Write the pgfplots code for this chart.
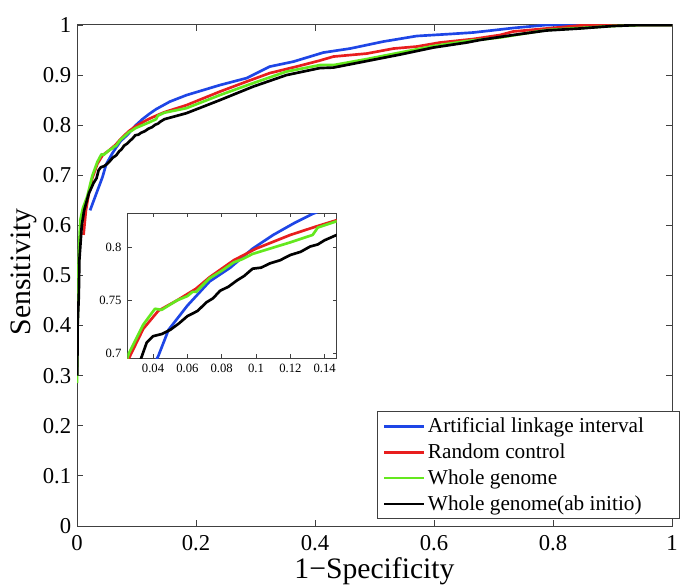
\documentclass[border=0pt]{standalone}
\usepackage{pgfplots}
\pgfplotsset{compat=1.18}
\usepackage{pgfplotstable}
\usepackage{fontspec}
\setmainfont{Liberation Serif}
\definecolor{cblue}{RGB}{30,70,230}
\definecolor{cred}{RGB}{232,30,30}
\definecolor{cgreen}{RGB}{100,232,30}
\pgfplotstableread{
x y
0.022 0.630
0.032 0.662
0.043 0.697
0.049 0.722
0.060 0.745
0.073 0.768
0.085 0.781
0.098 0.799
0.110 0.812
0.122 0.823
0.133 0.832
0.156 0.847
0.184 0.860
0.240 0.880
0.285 0.894
0.324 0.917
0.364 0.927
0.414 0.945
0.459 0.953
0.515 0.967
0.571 0.978
0.627 0.982
0.666 0.985
0.711 0.991
0.733 0.994
0.789 1.000
1.000 1.000
}\blue
\pgfplotstableread{
x y
0.011 0.581
0.015 0.630
0.020 0.665
0.0256 0.694
0.0343 0.723
0.043 0.740
0.054 0.750
0.065 0.761
0.073 0.772
0.087 0.788
0.100 0.799
0.120 0.812
0.135 0.820
0.147 0.826
0.184 0.840
0.240 0.867
0.285 0.887
0.324 0.904
0.369 0.917
0.408 0.929
0.431 0.937
0.487 0.943
0.532 0.953
0.571 0.957
0.610 0.965
0.666 0.972
0.711 0.980
0.733 0.987
0.789 0.993
0.845 0.999
0.880 1.000
1.000 1.000
}\red
\pgfplotstableread{
x y
0.000 0.285
0.001 0.400
0.002 0.500
0.004 0.570
0.0056 0.611
0.010 0.635
0.017 0.657
0.026 0.700
0.0343 0.727
0.0411 0.742
0.045 0.741
0.054 0.750
0.060 0.754
0.063 0.758
0.065 0.758
0.073 0.771
0.080 0.778
0.087 0.786
0.092 0.789
0.098 0.794
0.104 0.797
0.110 0.800
0.120 0.805
0.133 0.812
0.136 0.819
0.147 0.825
0.184 0.834
0.240 0.860
0.296 0.884
0.352 0.907
0.408 0.920
0.431 0.920
0.487 0.932
0.543 0.945
0.599 0.958
0.655 0.968
0.711 0.975
0.789 0.990
0.845 0.994
0.901 0.998
0.950 1.000
1.000 1.000
}\green
\pgfplotstableread{
x y
0.0005 0.300
0.001 0.400
0.003 0.458
0.004 0.531
0.008 0.600
0.012 0.630
0.020 0.664
0.028 0.685
0.0328 0.694
0.0363 0.710
0.040 0.716
0.045 0.718
0.050 0.722
0.055 0.728
0.060 0.735
0.066 0.740
0.071 0.748
0.075 0.752
0.079 0.759
0.084 0.763
0.089 0.769
0.093 0.773
0.098 0.780
0.103 0.781
0.108 0.785
0.114 0.788
0.120 0.793
0.126 0.796
0.1315 0.801
0.136 0.803
0.140 0.807
0.147 0.812
0.184 0.824
0.240 0.850
0.296 0.877
0.352 0.900
0.408 0.914
0.431 0.915
0.487 0.928
0.543 0.941
0.599 0.955
0.655 0.965
0.677 0.970
0.733 0.980
0.789 0.989
0.845 0.993
0.901 0.998
0.946 1.000
1.000 1.000
}\black
\begin{document}
\begin{tikzpicture}
\path[use as bounding box] (-46.2pt,-35.4pt) rectangle (364.8pt,315.6pt);
\begin{axis}[
  at={(0pt,0pt)}, anchor=south west,
  scale only axis, width=357pt, height=300.6pt,
  xmin=0, xmax=1, ymin=0, ymax=1,
  xtick={0,0.2,0.4,0.6,0.8,1},
  ytick={0,0.1,0.2,0.3,0.4,0.5,0.6,0.7,0.8,0.9,1},
  /pgf/number format/assume math mode=true,
  /pgf/number format/fixed,
  tick align=inside, major tick length=3.5pt,
  tick style={black!75, line width=0.5pt},
  axis line style={black!75, line width=0.6pt},
  ticklabel style={font=\fontsize{13.6}{15}\selectfont},
  xticklabel style={yshift=-2pt},
  label style={font=\fontsize{17.8}{20}\selectfont},
  xlabel={1−Specificity},
  ylabel={Sensitivity},
  xlabel style={at={(axis description cs:0.5,0)}, anchor=north, yshift=-18.5pt, inner sep=0pt},
  ylabel style={at={(axis description cs:-0.0896,0.507)}, anchor=center, rotate=0},
  legend cell align=left,
  legend image code/.code={\draw[#1] (0pt,0pt) -- (24pt,0pt);},
  legend style={at={(rel axis cs:0.5047,0.014)}, anchor=south west,
    font=\fontsize{12.75}{14}\selectfont, draw=black!75, line width=0.6pt,
    inner xsep=3pt, inner ysep=2pt, row sep=2.2pt,
    nodes={inner sep=1.5pt},
    /tikz/every even column/.append style={column sep=2pt}},
  every axis plot/.append style={line width=1.6pt, line join=round},
]
\addplot[cblue] table {\blue};
\addplot[cred] table {\red};
\addplot[cgreen] table {\green};
\addplot[black] table {\black};
\legend{Artificial linkage interval\rule{17pt}{0pt},Random control,Whole genome,Whole genome(ab initio)}
\end{axis}
\begin{axis}[
  at={(30.2pt,100.6pt)}, anchor=south west,
  scale only axis, width=125.6pt, height=87pt,
  xmin=0.025, xmax=0.147, ymin=0.695, ymax=0.8325,
  xtick={0.04,0.06,0.08,0.1,0.12,0.14},
  ytick={0.7,0.75,0.8},
  /pgf/number format/assume math mode=true,
  /pgf/number format/fixed, /pgf/number format/precision=2,
  tick align=inside, major tick length=2.5pt,
  tick style={black!75, line width=0.5pt},
  axis line style={black!75, line width=0.6pt},
  ticklabel style={font=\fontsize{7.6}{9}\selectfont},
  axis background/.style={fill=white},
  every axis plot/.append style={line width=1.6pt, line join=round},
]
\addplot[cblue] table {\blue};
\addplot[cred] table {\red};
\addplot[cgreen] table {\green};
\addplot[black] table {\black};
\end{axis}
\end{tikzpicture}
\end{document}
